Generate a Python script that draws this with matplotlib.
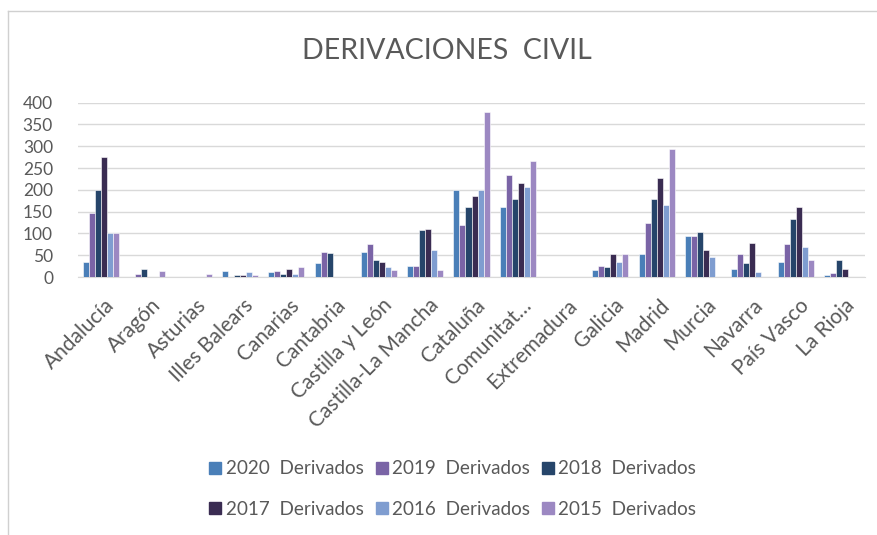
import matplotlib
matplotlib.use("Agg")
import matplotlib.pyplot as plt
import matplotlib.transforms as mtransforms
import numpy as np
from matplotlib.lines import Line2D

regions = ["Andalucía", "Aragón", "Asturias", "Illes Balears", "Canarias",
           "Cantabria", "Castilla y León", "Castilla-La Mancha", "Cataluña",
           "Comunitat…", "Extremadura", "Galicia", "Madrid", "Murcia",
           "Navarra", "País Vasco", "La Rioja"]

d2020 = [35, 0, 0, 14, 11, 31, 58, 25, 200, 160, 0, 15, 52, 94, 18, 35, 4]
d2019 = [148, 7, 0, 0, 14, 58, 76, 25, 120, 235, 0, 25, 123, 94, 52, 76, 9]
d2018 = [200, 18, 0, 5, 7, 55, 38, 107, 160, 178, 0, 22, 180, 103, 32, 133, 40]
d2017 = [275, 0, 0, 5, 19, 0, 35, 110, 187, 215, 0, 52, 228, 62, 79, 160, 19]
d2016 = [100, 0, 0, 12, 8, 0, 22, 62, 200, 207, 0, 35, 166, 45, 12, 69, 0]
d2015 = [100, 14, 7, 5, 22, 0, 15, 15, 378, 266, 0, 52, 293, 0, 0, 40, 0]

series_labels = ["2020  Derivados", "2019  Derivados", "2018  Derivados",
                 "2017  Derivados", "2016  Derivados", "2015  Derivados"]
series = [d2020, d2019, d2018, d2017, d2016, d2015]
colors = ["#4A7FB8", "#7A64A6", "#26456A", "#3A2C52", "#7F9DD0", "#9C88C2"]

yticks = [0, 50, 100, 150, 200, 250, 300, 350, 400]

plt.rcParams["font.family"] = ["Lato", "DejaVu Sans"]
text_color = "#595959"

fig = plt.figure(figsize=(8.77, 5.35), dpi=100)
W, H = 877, 535
ax = fig.add_axes([78 / W, 1 - 277 / H, (865 - 78) / W, (277 - 102.7) / H])

x = np.arange(len(regions))
n = len(series)
bw = 0.78 / n
for i, (vals, lab, c) in enumerate(zip(series, series_labels, colors)):
    offs = (i - (n - 1) / 2) * bw
    ax.bar(x + offs, vals, width=bw, color=c, label=lab,
           edgecolor="white", linewidth=0.4, zorder=3)

ax.set_xlim(-0.5, len(regions) - 0.5)
ax.set_ylim(0, 400)
ax.set_yticks(yticks)
ax.set_yticklabels([str(v) for v in yticks], fontsize=12.5, color=text_color)
ax.yaxis.grid(True, color="#D9D9D9", linewidth=1, zorder=0)
ax.set_axisbelow(True)
for s in ["top", "right", "left"]:
    ax.spines[s].set_visible(False)
ax.spines["bottom"].set_color("#D9D9D9")
ax.tick_params(axis="both", length=0)
ax.tick_params(axis="y", pad=18)

ax.set_xticks(x)
ax.set_xticklabels(regions, rotation=45, ha="right", va="top",
                   rotation_mode="anchor", fontsize=15, color=text_color)
ax.tick_params(axis="x", pad=13)
shift = mtransforms.ScaledTranslation(3 / 100, 0, fig.dpi_scale_trans)
for lbl in ax.get_xticklabels():
    lbl.set_transform(lbl.get_transform() + shift)

fig.text(447 / W, 1 - 51 / H, "DERIVACIONES  CIVIL", ha="center", va="center",
         fontsize=20.5, color=text_color)

# legend entries laid out row by row, three per row
handles = [Line2D([], [], marker="s", linestyle="none", markersize=8.5,
                  markerfacecolor=c, markeredgecolor=c) for c in colors]
order = [0, 3, 1, 4, 2, 5]
fig.legend([handles[k] for k in order], [series_labels[k] for k in order],
           loc="center", ncol=3, bbox_to_anchor=(452 / W, 1 - 489 / H),
           frameon=False, fontsize=13.6, labelcolor=text_color,
           handletextpad=0.15, columnspacing=0.55, labelspacing=1.25,
           handlelength=0.8)

# thin frame around the chart area
fig.add_artist(Line2D([8 / W, 8 / W], [0, 1 - 11 / H], transform=fig.transFigure,
                      color="#D0D0D0", linewidth=1))
fig.add_artist(Line2D([8 / W, 1], [1 - 11 / H, 1 - 11 / H], transform=fig.transFigure,
                      color="#D0D0D0", linewidth=1))

fig.savefig("out.png", dpi=100, facecolor="white")
